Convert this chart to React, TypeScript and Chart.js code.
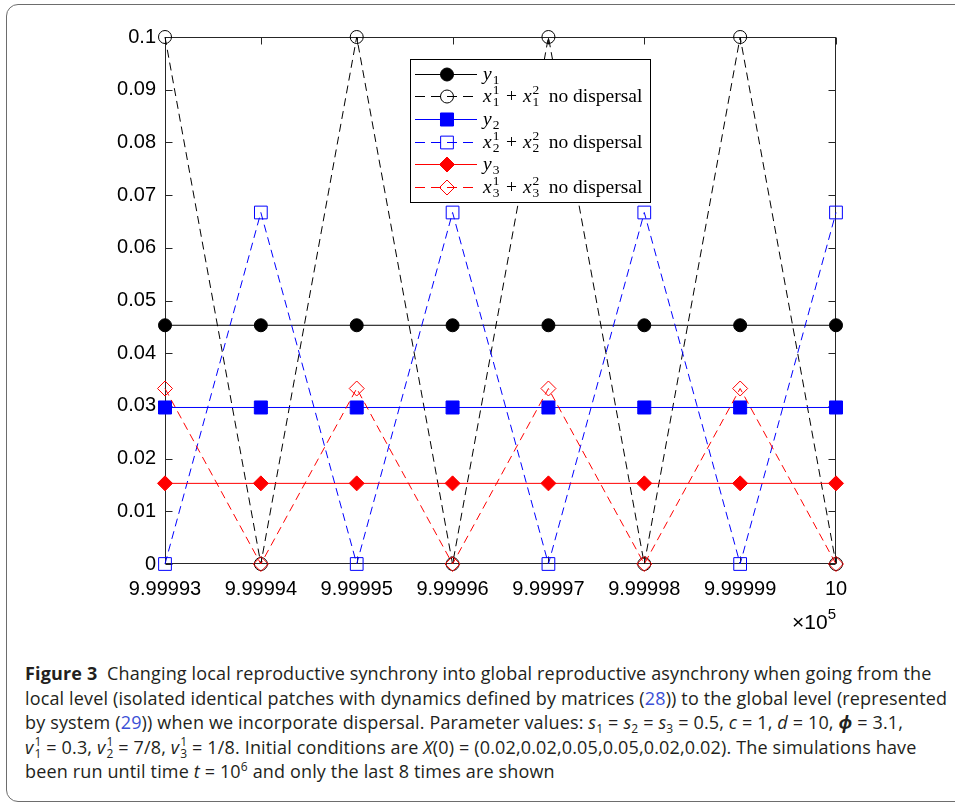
import React, { useEffect, useRef } from 'react';
import { Chart, registerables } from 'chart.js';
import { drawPoint } from 'chart.js/helpers';

Chart.register(...registerables);

// ---------------- data ----------------
const times = [999993, 999994, 999995, 999996, 999997, 999998, 999999, 1000000];
const y1Values = [0.0453, 0.0453, 0.0453, 0.0453, 0.0453, 0.0453, 0.0453, 0.0453];
const x1NoDispersal = [0.1, 0, 0.1, 0, 0.1, 0, 0.1, 0];
const y2Values = [0.0297, 0.0297, 0.0297, 0.0297, 0.0297, 0.0297, 0.0297, 0.0297];
const x2NoDispersal = [0, 0.0667, 0, 0.0667, 0, 0.0667, 0, 0.0667];
const y3Values = [0.0153, 0.0153, 0.0153, 0.0153, 0.0153, 0.0153, 0.0153, 0.0153];
const x3NoDispersal = [0.0333, 0, 0.0333, 0, 0.0333, 0, 0.0333, 0];
const yTickValues = [0, 0.01, 0.02, 0.03, 0.04, 0.05, 0.06, 0.07, 0.08, 0.09, 0.1];
const seriesLabels = [
  '$y_1$',
  '$x_1^1 + x_1^2$ no dispersal',
  '$y_2$',
  '$x_2^1 + x_2^2$ no dispersal',
  '$y_3$',
  '$x_3^1 + x_3^2$ no dispersal',
];
const xExponent = '5';

const BLACK = '#000000';
const BLUE = '#0000ff';
const RED = '#ff0000';
const TICK_FONT = '"Liberation Sans", Arial, Helvetica, sans-serif';
const SERIF = '"Liberation Serif", "Times New Roman", serif';

const fmtX = (v: number) => String(Number((v / 1e5).toFixed(5)));
const fmtY = (v: number) => String(Number(v.toFixed(2)));

type Seg = { t: string; it?: boolean; sub?: string; sup?: string; op?: boolean };
function parseTex(s: string): Seg[] {
  const segs: Seg[] = [];
  s.split('$').forEach((p, i) => {
    if (i % 2 === 0) {
      if (p) segs.push({ t: p });
      return;
    }
    const re = /([A-Za-z])(?:_(\w))?(?:\^(\w))?|(\s*\+\s*)/g;
    let m: RegExpExecArray | null;
    while ((m = re.exec(p))) {
      if (m[4]) segs.push({ t: '+', op: true });
      else segs.push({ t: m[1], it: true, sub: m[2], sup: m[3] });
    }
  });
  return segs;
}

function drawTex(ctx: CanvasRenderingContext2D, s: string, x: number, y: number) {
  const base = 19.5;
  const small = 13.5;
  let cx = x;
  ctx.textAlign = 'left';
  ctx.textBaseline = 'alphabetic';
  ctx.fillStyle = '#000';
  for (const seg of parseTex(s)) {
    ctx.font = `${seg.it ? 'italic ' : ''}${base}px ${SERIF}`;
    if (seg.op) cx += 6;
    if (seg.t.startsWith(' ')) cx += 4;
    ctx.fillText(seg.t, cx, y);
    cx += ctx.measureText(seg.t).width;
    if (seg.op) cx += 6;
    if (seg.sub || seg.sup) {
      ctx.font = `${small}px ${SERIF}`;
      let w = 0;
      if (seg.sup) {
        ctx.fillText(seg.sup, cx + 1, y - 7.5);
        w = Math.max(w, ctx.measureText(seg.sup).width);
      }
      if (seg.sub) {
        ctx.fillText(seg.sub, cx + 1, y + 4);
        w = Math.max(w, ctx.measureText(seg.sub).width);
      }
      cx += w + 1.5;
    }
  }
}

const axesBoxPlugin = {
  id: 'axesBox',
  beforeDatasetsDraw(chart: any) {
    const { ctx, chartArea: a, scales } = chart;
    const L = Math.round(a.left) + 0.5;
    const R = Math.round(a.right) - 0.5;
    const T = Math.round(a.top) + 0.5;
    const B = Math.round(a.bottom) - 0.5;
    ctx.save();
    ctx.strokeStyle = '#262626';
    ctx.lineWidth = 1;
    ctx.strokeRect(L, T, R - L, B - T);
    const tl = 7;
    ctx.beginPath();
    times.forEach((t) => {
      const px = Math.round(scales.x.getPixelForValue(t)) + 0.5;
      ctx.moveTo(px, B);
      ctx.lineTo(px, B - tl);
      ctx.moveTo(px, T);
      ctx.lineTo(px, T + tl);
    });
    yTickValues.forEach((v) => {
      const py = Math.round(scales.y.getPixelForValue(v)) + 0.5;
      ctx.moveTo(L, py);
      ctx.lineTo(L + tl, py);
      ctx.moveTo(R, py);
      ctx.lineTo(R - tl, py);
    });
    ctx.stroke();
    ctx.restore();
  },
  afterDraw(chart: any) {
    const { ctx, chartArea: a } = chart;
    // exponent label
    ctx.save();
    ctx.fillStyle = '#000';
    ctx.textBaseline = 'alphabetic';
    ctx.textAlign = 'left';
    ctx.font = `21px ${TICK_FONT}`;
    const wTimes = ctx.measureText('\u00d7').width;
    const w10 = ctx.measureText('10').width;
    ctx.font = `15px ${TICK_FONT}`;
    const wExp = ctx.measureText(xExponent).width;
    const startX = a.right - (wTimes + w10 + wExp);
    const baseY = a.bottom + 65;
    ctx.font = `21px ${TICK_FONT}`;
    ctx.fillText('\u00d7', startX, baseY);
    ctx.fillText('10', startX + wTimes, baseY);
    ctx.font = `15px ${TICK_FONT}`;
    ctx.fillText(xExponent, startX + wTimes + w10, baseY - 10);
    ctx.restore();

    // legend
    const bx = Math.round(a.left) + 245;
    const by = Math.round(a.top) + 22;
    const bw = 240;
    const bh = 143;
    ctx.save();
    ctx.fillStyle = '#fff';
    ctx.fillRect(bx, by, bw, bh);
    ctx.strokeStyle = '#000';
    ctx.lineWidth = 1;
    ctx.strokeRect(bx + 0.5, by + 0.5, bw, bh);
    chart.data.datasets.forEach((ds: any, i: number) => {
      const cy = Math.round(by + 14.5 + i * 22.7) + 0.5;
      ctx.save();
      ctx.strokeStyle = ds.borderColor;
      ctx.lineWidth = ds.borderWidth;
      ctx.setLineDash(ds.borderDash && ds.borderDash.length ? [10, 6] : []);
      ctx.beginPath();
      ctx.moveTo(bx + 5, cy);
      ctx.lineTo(bx + 67, cy);
      ctx.stroke();
      ctx.restore();
      ctx.save();
      ctx.setLineDash([]);
      ctx.strokeStyle = ds.pointBorderColor;
      ctx.fillStyle = ds.pointBackgroundColor;
      ctx.lineWidth = ds.pointBorderWidth;
      drawPoint(
        ctx,
        { pointStyle: ds.pointStyle, radius: ds.pointRadius, rotation: 0, borderWidth: ds.pointBorderWidth } as any,
        bx + 37,
        cy
      );
      ctx.restore();
      drawTex(ctx, seriesLabels[i], bx + 73, cy + 5);
    });
    ctx.restore();
  },
};

function makeDataset(
  label: string,
  values: number[],
  color: string,
  dashed: boolean,
  pointStyle: string,
  radius: number,
  filled: boolean,
  order: number
) {
  return {
    label,
    data: times.map((t, i) => ({ x: t, y: values[i] })),
    borderColor: color,
    borderWidth: 1,
    borderDash: dashed ? [8, 5] : [],
    pointStyle,
    pointRadius: radius,
    pointBorderColor: color,
    pointBackgroundColor: filled ? color : 'rgba(0,0,0,0)',
    pointBorderWidth: 1,
    fill: false,
    tension: 0,
    clip: false,
    order,
  };
}

function FigureChart() {
  const ref = useRef<HTMLCanvasElement | null>(null);
  useEffect(() => {
    if (!ref.current) return;
    const chart = new Chart(ref.current, {
      type: 'line',
      data: {
        datasets: [
          makeDataset(seriesLabels[0], y1Values, BLACK, false, 'circle', 6.5, true, 6),
          makeDataset(seriesLabels[1], x1NoDispersal, BLACK, true, 'circle', 6.5, false, 5),
          makeDataset(seriesLabels[2], y2Values, BLUE, false, 'rect', 9.2, true, 4),
          makeDataset(seriesLabels[3], x2NoDispersal, BLUE, true, 'rect', 9, false, 3),
          makeDataset(seriesLabels[4], y3Values, RED, false, 'rectRot', 7.5, true, 2),
          makeDataset(seriesLabels[5], x3NoDispersal, RED, true, 'rectRot', 7.5, false, 1),
        ] as any,
      },
      options: {
        responsive: false,
        animation: false,
        devicePixelRatio: 1,
        events: [],
        layout: { padding: { left: 0, top: 37, right: 119, bottom: 0 } },
        plugins: {
          legend: { display: false },
          tooltip: { enabled: false },
          title: { display: false },
        },
        scales: {
          x: {
            type: 'linear',
            min: times[0],
            max: times[times.length - 1],
            afterBuildTicks: (s: any) => {
              s.ticks = times.map((v) => ({ value: v }));
            },
            afterFit: (s: any) => {
              s.height = 76;
            },
            grid: { display: false, drawTicks: false, tickLength: 0 },
            border: { display: false },
            ticks: {
              callback: (v: any) => fmtX(Number(v)),
              font: { family: TICK_FONT, size: 20 },
              color: '#000',
              padding: 13,
              maxRotation: 0,
              autoSkip: false,
            },
          },
          y: {
            type: 'linear',
            min: 0,
            max: 0.1,
            afterBuildTicks: (s: any) => {
              s.ticks = yTickValues.map((v) => ({ value: v }));
            },
            afterFit: (s: any) => {
              s.width = 165;
            },
            grid: { display: false, drawTicks: false, tickLength: 0 },
            border: { display: false },
            ticks: {
              callback: (v: any) => fmtY(Number(v)),
              font: { family: TICK_FONT, size: 20 },
              color: '#000',
              padding: 9,
              autoSkip: false,
            },
          },
        },
      } as any,
      plugins: [axesBoxPlugin],
    });
    return () => chart.destroy();
  }, []);
  return (
    <canvas
      ref={ref}
      width={955}
      height={640}
      style={{ position: 'absolute', left: 0, top: 0, width: 955, height: 640 }}
    />
  );
}

const SubSup = ({ sub, sup }: { sub: string; sup: string }) => (
  <span
    style={{
      display: 'inline-block',
      verticalAlign: '-4px',
      fontSize: 12,
      lineHeight: '12px',
      textAlign: 'left',
      fontStyle: 'normal',
      marginLeft: 1,
    }}
  >
    <span style={{ display: 'block' }}>{sup}</span>
    <span style={{ display: 'block' }}>{sub}</span>
  </span>
);
const Sub = ({ c }: { c: string }) => (
  <span style={{ fontSize: 12, verticalAlign: '-4px', lineHeight: 0, fontStyle: 'normal' }}>{c}</span>
);
const Sup = ({ c }: { c: string }) => (
  <span style={{ fontSize: 12, verticalAlign: '7px', lineHeight: 0 }}>{c}</span>
);
const I = ({ c }: { c: string }) => <i>{c}</i>;
const Link = ({ c }: { c: string }) => <span style={{ color: '#3b50d6' }}>{c}</span>;

function Caption() {
  const line: React.CSSProperties = { whiteSpace: 'nowrap', height: 24.5 };
  return (
    <div
      style={{
        position: 'absolute',
        left: 25,
        top: 661,
        fontFamily: '"Open Sans", "Noto Sans", sans-serif',
        fontSize: 18,
        letterSpacing: '0.15px',
        lineHeight: '24.5px',
        color: '#231f20',
      }}
    >
      <div style={line}>
        <b>Figure 3</b>&nbsp;&nbsp;Changing local reproductive synchrony into global reproductive asynchrony when
        going from the
      </div>
      <div style={line}>
        local level (isolated identical patches with dynamics defined by matrices (<Link c="28" />)) to the global
        level (represented
      </div>
      <div style={line}>
        by system (<Link c="29" />)) when we incorporate dispersal. Parameter values: <I c="s" />
        <Sub c="1" /> = <I c="s" />
        <Sub c="2" /> = <I c="s" />
        <Sub c="3" /> = 0.5, <I c="c" /> = 1, <I c="d" /> = 10, <b><i>ϕ</i></b> = 3.1,
      </div>
      <div style={line}>
        <I c="v" />
        <SubSup sub="1" sup="1" /> = 0.3, <I c="v" />
        <SubSup sub="2" sup="1" /> = 7/8, <I c="v" />
        <SubSup sub="3" sup="1" /> = 1/8. Initial conditions are <I c="X" />(0) = (0.02,0.02,0.05,0.05,0.02,0.02).
        The simulations have
      </div>
      <div style={line}>
        been run until time <I c="t" /> = 10
        <Sup c="6" /> and only the last 8 times are shown
      </div>
    </div>
  );
}

export default function App() {
  return (
    <div
      style={{
        position: 'fixed',
        left: 0,
        top: 0,
        width: 955,
        height: 803,
        overflow: 'hidden',
        background: '#fff',
      }}
    >
      <div
        style={{
          position: 'absolute',
          left: 6,
          top: 4,
          width: 980,
          height: 798,
          boxSizing: 'border-box',
          border: '1.5px solid #6d6d6d',
          borderRadius: 12,
        }}
      />
      <FigureChart />
      <Caption />
    </div>
  );
}
